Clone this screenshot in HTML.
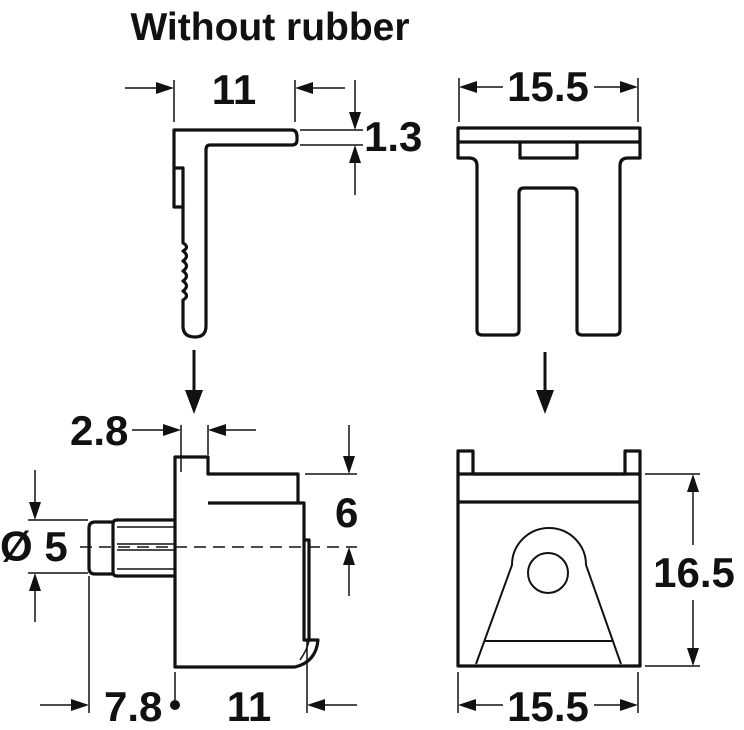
<!DOCTYPE html>
<html><head><meta charset="utf-8"><style>
html,body{margin:0;padding:0;background:#fff}
svg{display:block}
text{font-family:"Liberation Sans",Arial,sans-serif;font-weight:bold;fill:#111}
</style></head><body>
<svg width="744" height="730" viewBox="0 0 744 730" xmlns="http://www.w3.org/2000/svg">
<text x="270" y="40" font-size="39" text-anchor="middle">Without rubber</text>

<!-- top-left profile -->
<g fill="none" stroke="#111" stroke-width="3.2" stroke-linejoin="round">
<path d="M174,207 L174,130 L292,130 Q297,130 297,137 L297,140 Q297,145 292,145 L210,145 Q206,145 206,150 L206,326 Q206,337 195,337 Q183,337 183,326 L183,300 Q190,296 183,291 Q190,286 183,281 Q190,276 183,271 Q190,266 183,261 Q190,256 183,251 Q190,247 183,243 L183,207 Z"/>
<path d="M174,168 L183,168 L183,207"/>
</g>
<g stroke="#111" stroke-width="1.5" fill="none">
<line x1="174" y1="80" x2="174" y2="122"/><line x1="295" y1="80" x2="295" y2="122"/>
<line x1="125" y1="88" x2="160" y2="88"/>
<line x1="345" y1="88" x2="309" y2="88"/>
<line x1="300" y1="130" x2="363" y2="130"/><line x1="300" y1="145" x2="363" y2="145"/>
<line x1="355" y1="80" x2="355" y2="116"/>
<line x1="355" y1="195" x2="355" y2="159"/>
</g>
<g fill="#111">
<polygon points="156,82 174,88 156,94"/>
<polygon points="313,82 295,88 313,94"/>
<polygon points="349,112 355,130 361,112"/>
<polygon points="349,163 355,145 361,163"/>
</g>
<text x="234" y="104" font-size="42" text-anchor="middle">11</text>
<text x="364" y="151" font-size="42">1.3</text>

<!-- top-right -->
<g fill="none" stroke="#111" stroke-width="3.2" stroke-linejoin="round">
<path d="M458,128 L640,128 L640,158 L628,158 Q620,158 620,166 L620,330 Q620,335 615,335 L582,335 Q577,335 577,330 L577,193 Q577,188 572,188 L524,188 Q519,188 519,193 L519,330 Q519,335 514,335 L482,335 Q477,335 477,330 L477,166 Q477,158 469,158 L458,158 Z"/>
<line x1="458" y1="142" x2="640" y2="142"/>
<path d="M520,142 L520,158 L577,158 L577,142"/>
</g>
<g stroke="#111" stroke-width="1.5" fill="none">
<line x1="459" y1="78" x2="459" y2="122"/><line x1="638" y1="78" x2="638" y2="122"/>
<line x1="503" y1="87" x2="470" y2="87"/>
<line x1="594" y1="87" x2="627" y2="87"/>
</g>
<g fill="#111">
<polygon points="477,81 459,87 477,93"/>
<polygon points="620,81 638,87 620,93"/>
</g>
<text x="548" y="101" font-size="42" text-anchor="middle">15.5</text>

<!-- down arrows -->
<g stroke="#111" stroke-width="3"><line x1="194" y1="350" x2="194" y2="395"/><line x1="545" y1="352" x2="545" y2="395"/></g>
<g fill="#111">
<polygon points="185,390 194,414 203,390"/>
<polygon points="536,390 545,414 554,390"/>
</g>

<!-- bottom-left -->
<g fill="none" stroke="#111" stroke-width="3.2" stroke-linejoin="round">
<path d="M175,667 L175,457 L208,457 L208,474 L298,474 L298,503 L304,503 L304,640 L318,640 Q316,662 295,667 Z"/>
<line x1="208" y1="503" x2="298" y2="503"/>
<path d="M304,540 L309,540 L309,640"/>
<path d="M300,660 Q307,650 309,641" stroke-width="1.5"/>
<path d="M175,520 L117,520 Q113,520 113,524 L113,572 Q113,576 117,576 L175,576"/>
<path d="M113,522 L95,522 Q89,522 89,528 L89,568 Q89,574 95,574 L113,574"/>
</g>
<g stroke="#111" stroke-width="1.5" fill="none">
<line x1="117" y1="527" x2="175" y2="527"/><line x1="117" y1="569" x2="175" y2="569"/>
<line x1="117" y1="544" x2="175" y2="544"/><line x1="117" y1="550" x2="175" y2="550"/>
<line x1="80" y1="547" x2="357" y2="547" stroke-dasharray="12,7"/>
<line x1="181" y1="425" x2="181" y2="472"/><line x1="208" y1="425" x2="208" y2="455"/>
<line x1="132" y1="430" x2="170" y2="430"/>
<line x1="256" y1="430" x2="219" y2="430"/>
<line x1="305" y1="474" x2="357" y2="474"/>
<line x1="349" y1="425" x2="349" y2="462"/>
<line x1="349" y1="596" x2="349" y2="559"/>
<line x1="28" y1="520" x2="88" y2="520"/><line x1="28" y1="573" x2="88" y2="573"/>
<line x1="35" y1="470" x2="35" y2="508"/>
<line x1="35" y1="622" x2="35" y2="585"/>
<line x1="89" y1="576" x2="89" y2="713"/>
<line x1="40" y1="705" x2="77" y2="705"/>
<line x1="175" y1="672" x2="175" y2="700"/>
<line x1="307" y1="640" x2="307" y2="713"/>
<line x1="357" y1="705" x2="320" y2="705"/>
</g>
<g fill="#111">
<polygon points="163,424 181,430 163,436"/>
<polygon points="226,424 208,430 226,436"/>
<polygon points="343,456 349,474 355,456"/>
<polygon points="343,565 349,547 355,565"/>
<polygon points="29,502 35,520 41,502"/>
<polygon points="29,591 35,573 41,591"/>
<polygon points="71,699 89,705 71,711"/>
<polygon points="325,699 307,705 325,711"/>
</g>
<circle cx="175" cy="705" r="5" fill="#111"/>
<text x="70" y="445" font-size="42">2.8</text>
<text x="335" y="527" font-size="42">6</text>
<text x="0" y="561" font-size="42">Ø 5</text>
<text x="104" y="721" font-size="42">7.8</text>
<text x="249" y="721" font-size="42" text-anchor="middle">11</text>

<!-- bottom-right -->
<g fill="none" stroke="#111" stroke-width="3.2" stroke-linejoin="round">
<path d="M458,666 L458,451 L473,451 L473,474 L625,474 L625,451 L640,451 L640,666 Z"/>
<line x1="458" y1="474" x2="640" y2="474"/>
<line x1="458" y1="502" x2="640" y2="502"/>
</g>
<g fill="none" stroke="#111" stroke-width="2">
<path d="M476,664 L512,565 A37,37 0 0 1 586,565 L621,664"/>
<line x1="485" y1="641" x2="612" y2="641"/>
<circle cx="548" cy="573" r="20"/>
</g>
<g stroke="#111" stroke-width="1.5" fill="none">
<line x1="645" y1="474" x2="700" y2="474"/><line x1="645" y1="666" x2="700" y2="666"/>
<line x1="693" y1="545" x2="693" y2="486"/>
<line x1="693" y1="600" x2="693" y2="654"/>
<line x1="458" y1="672" x2="458" y2="713"/><line x1="638" y1="672" x2="638" y2="713"/>
<line x1="503" y1="705" x2="470" y2="705"/>
<line x1="594" y1="705" x2="627" y2="705"/>
</g>
<g fill="#111">
<polygon points="687,492 693,474 699,492"/>
<polygon points="687,648 693,666 699,648"/>
<polygon points="476,699 458,705 476,711"/>
<polygon points="620,699 638,705 620,711"/>
</g>
<text x="694" y="587" font-size="42" text-anchor="middle">16.5</text>
<text x="548" y="721" font-size="42" text-anchor="middle">15.5</text>
</svg>
</body></html>
